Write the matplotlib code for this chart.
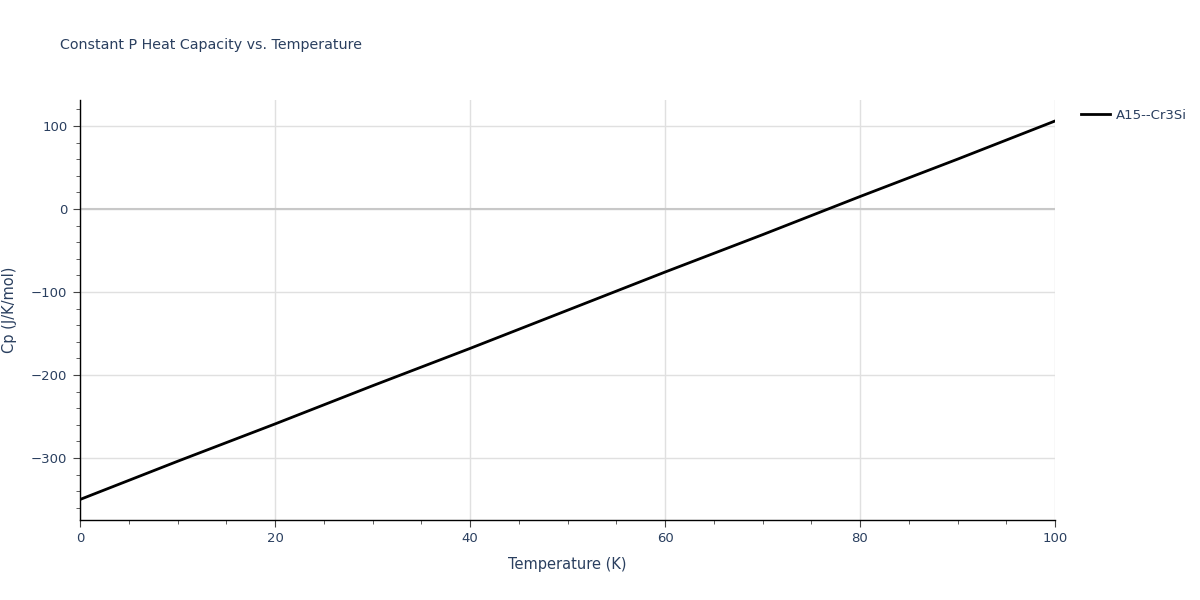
import matplotlib
matplotlib.use("Agg")
import matplotlib.pyplot as plt
from matplotlib.ticker import MultipleLocator

temperature = [0, 10, 20, 30, 40, 50, 60, 70, 80, 90, 100]
cp_values = [-350, -304, -259, -213, -168, -122, -76, -31, 15, 60, 106]
series_name = "A15--Cr3Si"

txt = "#2a3f5f"
W, H = 1200, 600
fig = plt.figure(figsize=(W / 100, H / 100), dpi=100)
ax = fig.add_axes([80 / W, 1 - 520 / H, 975 / W, 420 / H])
ax.plot(temperature, cp_values, color="black", lw=2, label=series_name, zorder=3)
ax.set_xlim(0, 100)
ax.set_ylim(-374.7, 131.3)
ax.xaxis.set_major_locator(MultipleLocator(20))
ax.xaxis.set_minor_locator(MultipleLocator(5))
ax.yaxis.set_major_locator(MultipleLocator(100))
ax.yaxis.set_minor_locator(MultipleLocator(20))
ax.grid(True, which="major", color="#e0e0e0", lw=1)
ax.axhline(0, color="#c8c8c8", lw=1.5, zorder=2)
for s in ["top", "right"]:
    ax.spines[s].set_visible(False)
for s in ["left", "bottom"]:
    ax.spines[s].set_color("black")
    ax.spines[s].set_linewidth(1)
ax.tick_params(which="major", length=5, color="#444444", labelcolor=txt, labelsize=9.5, pad=4)
ax.tick_params(which="minor", length=3, color="#444444")
ax.set_yticklabels([f"{int(v)}".replace("-", "\u2212") for v in ax.get_yticks()])
ax.set_xlabel("Temperature (K)", color=txt, fontsize=10.5, labelpad=8)
ax.set_ylabel("Cp (J/K/mol)", color=txt, fontsize=10.5, labelpad=10)
fig.text(60 / W, 1 - 45 / H, "Constant P Heat Capacity vs. Temperature", color=txt, fontsize=10.3, va="center")
leg = ax.legend(loc="upper left", bbox_to_anchor=(1.014, 1.008), frameon=False, fontsize=9.5,
                handlelength=2.2, handletextpad=0.5, labelcolor=txt)
fig.savefig("out.png", dpi=100)
